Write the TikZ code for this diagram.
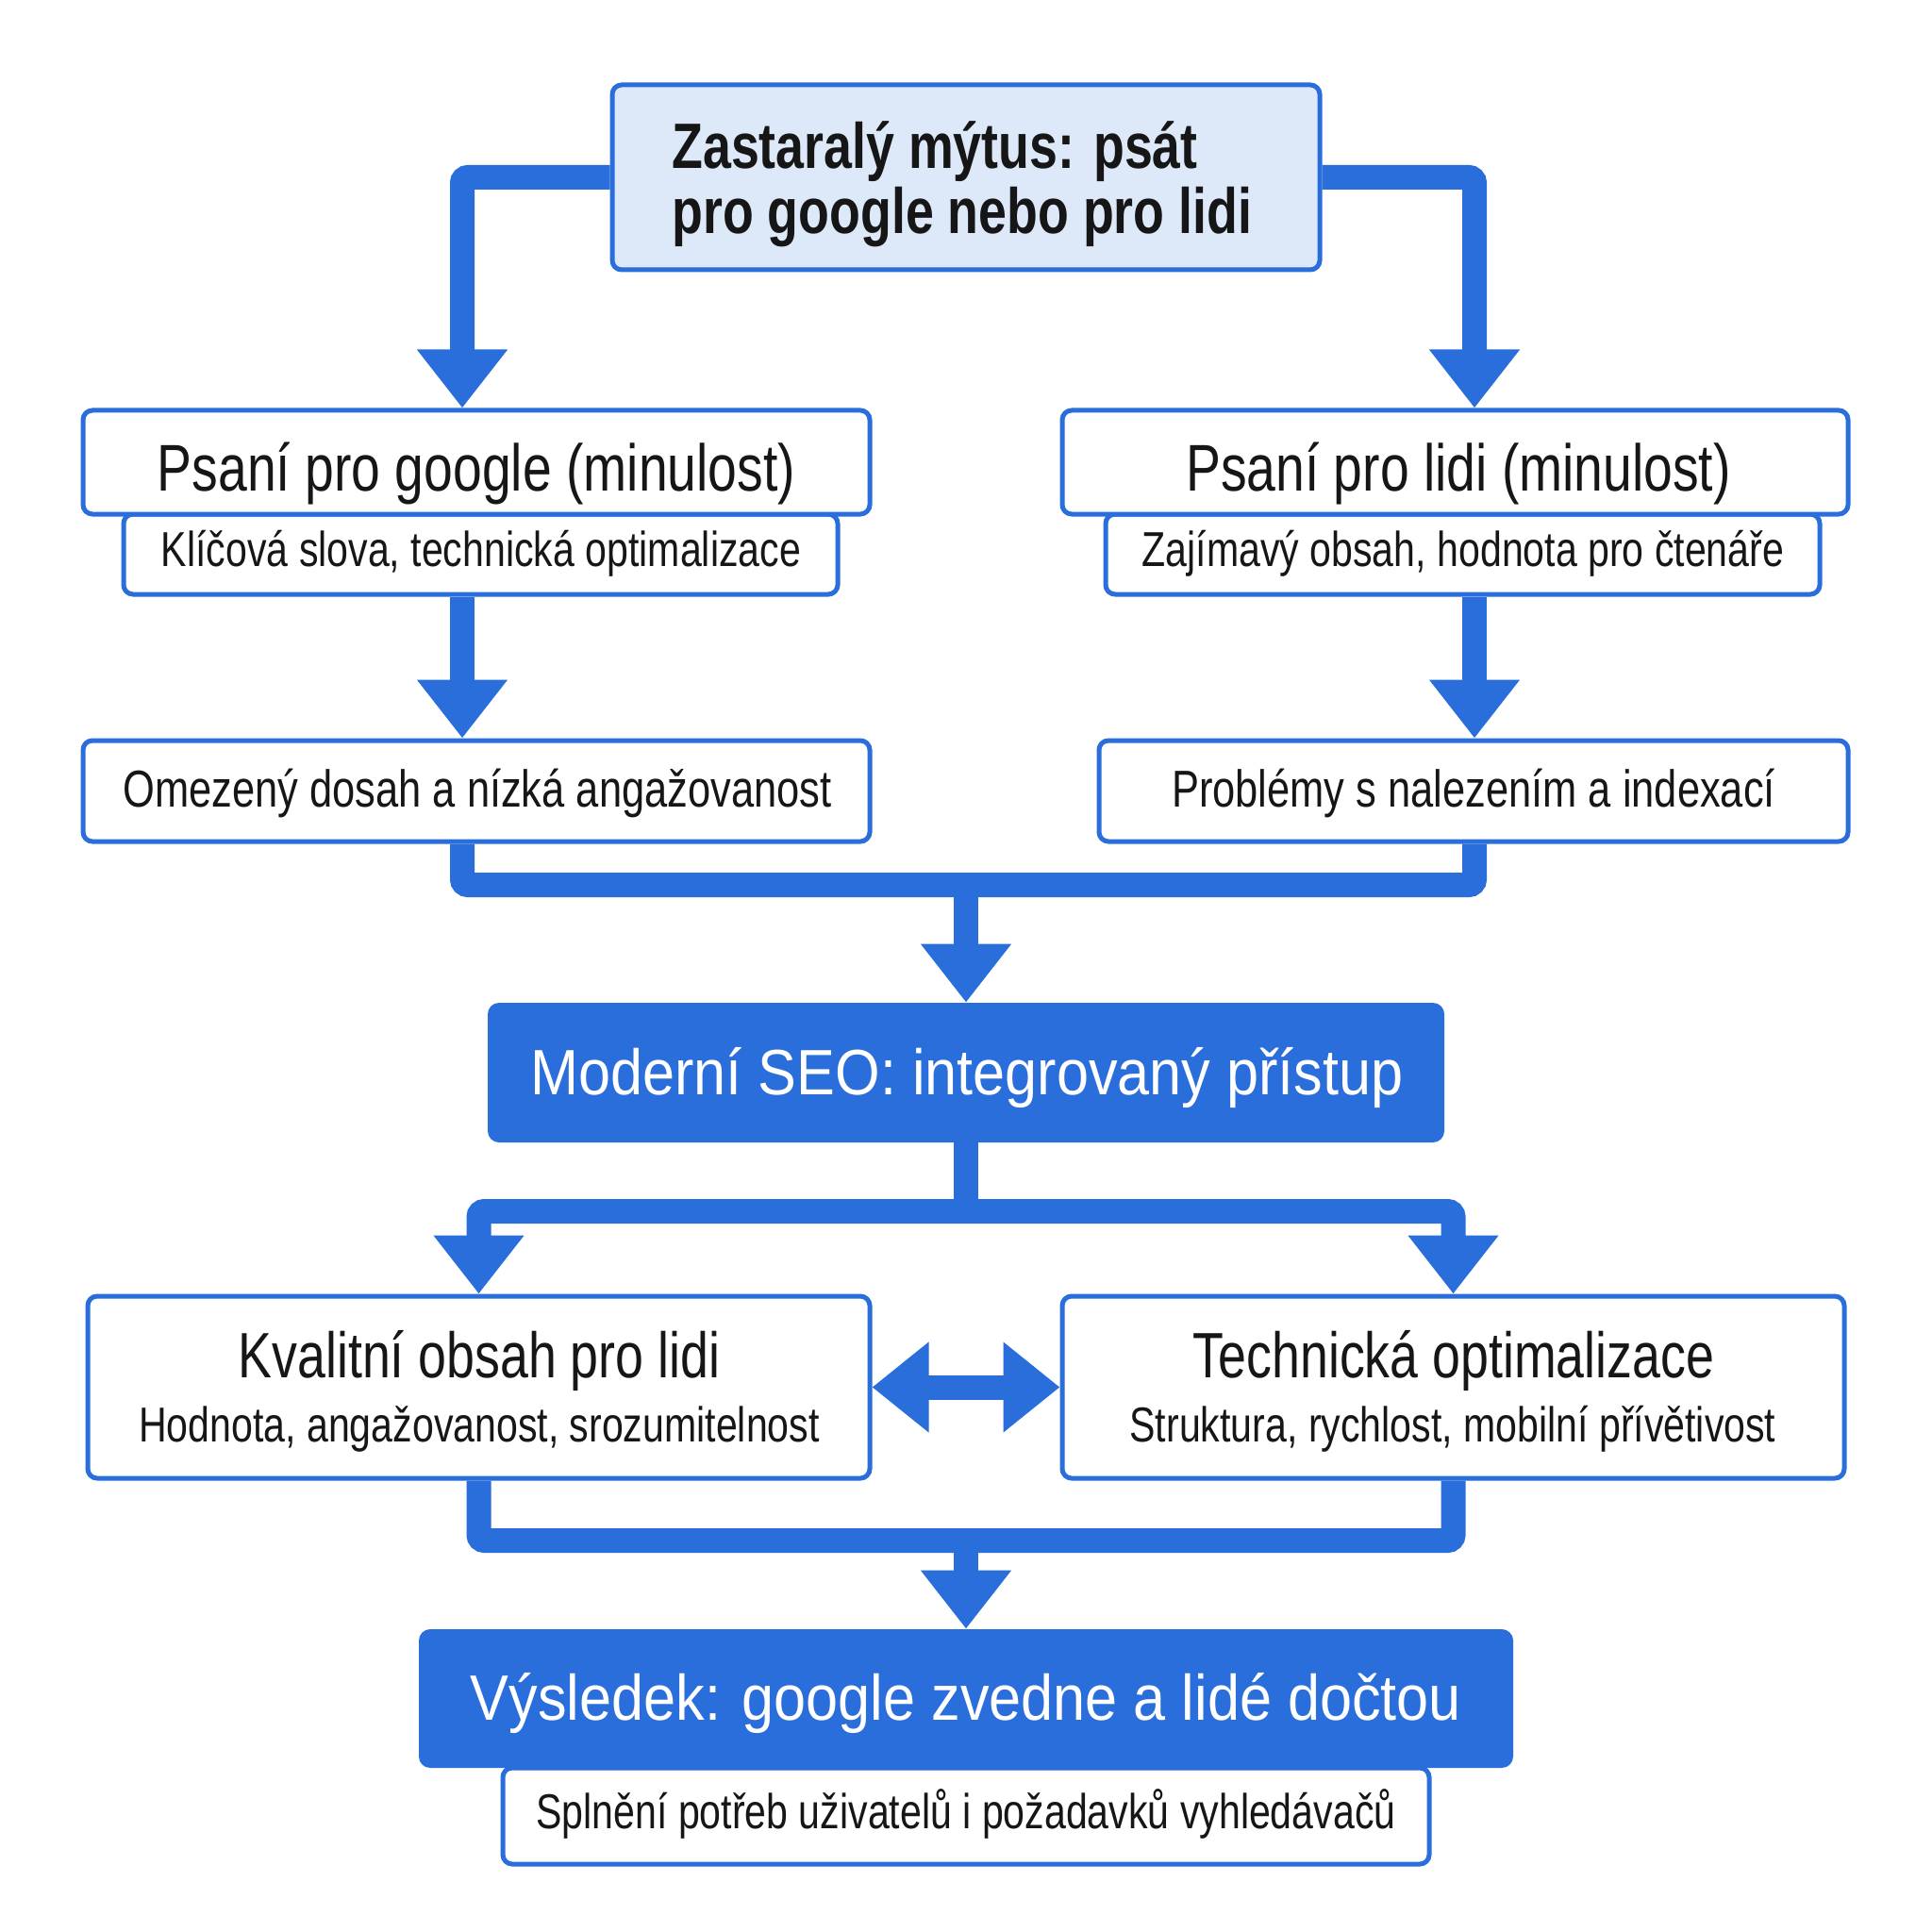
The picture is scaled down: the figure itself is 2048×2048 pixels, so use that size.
\documentclass[tikz,border=0pt]{standalone}
\usepackage{fontspec}
\setmainfont{Liberation Sans}
\newfontfamily\condf[FakeStretch=0.79]{Liberation Sans}
\newfontfamily\widef[FakeStretch=0.9]{Liberation Sans}
\usetikzlibrary{arrows.meta}
\definecolor{mainblue}{RGB}{42,110,220}
\definecolor{lightfill}{RGB}{221,233,249}
\definecolor{ink}{RGB}{22,22,22}
\begin{document}
\begin{tikzpicture}[x=0.5pt,y=-0.5pt,
  wbox/.style={draw=mainblue, line width=2.5pt, fill=white, rounded corners=5pt, inner sep=0pt},
  fbox/.style={fill=mainblue, rounded corners=6pt, inner sep=0pt},
  lbl/.style={anchor=base, text=ink, inner sep=0pt},
  wlbl/.style={anchor=base, text=white, inner sep=0pt, font=\widef\fontsize{34}{40}\selectfont},
  big/.style={font=\condf\fontsize{35}{40}\selectfont},
  mid/.style={font=\condf\fontsize{27.5}{32}\selectfont},
  small/.style={font=\condf\fontsize{26}{30}\selectfont},
  conn/.style={draw=mainblue, line width=13pt, rounded corners=3pt},
  arr/.style={conn, -{Triangle[length=31pt,width=46pt]}},
  darr/.style={conn, {Triangle[length=30pt,width=46pt]}-{Triangle[length=30pt,width=46pt]}}
]
\useasboundingbox (0,0) rectangle (2048,2048);
\fill[white] (0,0) rectangle (2048,2048);

% column coordinates
\coordinate (cl) at (490,0);
\coordinate (cr) at (1563,0);
\coordinate (mg) at (1024,938);
\coordinate (sp) at (1024,1284);
\coordinate (mg2) at (1024,1633);

% top box
\node[wbox, fill=lightfill, minimum width=375pt, minimum height=98pt] (top) at (1024,188) {};
\node[lbl, anchor=base west, font=\condf\bfseries\fontsize{34}{40}\selectfont] (topa) at (712,179) {Zastaralý mýtus: psát};
\node[lbl, anchor=base west, font=\condf\bfseries\fontsize{34}{40}\selectfont] (topb) at (712,248) {pro google nebo pro lidi};

% second row
\node[wbox, minimum width=378.5pt, minimum height=42.5pt] (g1s) at (509.5,587.5) {};
\node[wbox, minimum width=417pt, minimum height=55pt] (g1) at (505,490) {};
\node[lbl, big] (g1t) at (505,520) {Psaní pro google (minulost)};
\node[lbl, small] (g1st) at (510,600) {Klíčová slova, technická optimalizace};

\node[wbox, minimum width=378.5pt, minimum height=42.5pt] (h1s) at (1550.5,587.5) {};
\node[wbox, minimum width=416.5pt, minimum height=55pt] (h1) at (1542.5,490) {};
\node[lbl, big] (h1t) at (1546,520) {Psaní pro lidi (minulost)};
\node[lbl, small] (h1st) at (1551,600) {Zajímavý obsah, hodnota pro čtenáře};

% third row
\node[wbox, minimum width=417pt, minimum height=53.5pt] (o1) at (505,838.5) {};
\node[lbl, mid] (o1t) at (506,855) {Omezený dosah a nízká angažovanost};
\node[wbox, minimum width=397pt, minimum height=53.5pt] (o2) at (1562,838.5) {};
\node[lbl, mid] (o2t) at (1562,855) {Problémy s nalezením a indexací};

% modern SEO
\node[fbox, minimum width=507pt, minimum height=74pt] (seo) at (1024,1137) {};
\node[wlbl] (seot) at (1025,1160) {Moderní SEO: integrovaný přístup};

% fourth row
\node[wbox, minimum width=414.5pt, minimum height=96.5pt] (q1) at (507.5,1470.5) {};
\node[lbl, font=\condf\fontsize{34}{40}\selectfont] (q1a) at (508,1460) {Kvalitní obsah pro lidi};
\node[lbl, small] (q1b) at (508,1528) {Hodnota, angažovanost, srozumitelnost};
\node[wbox, minimum width=414.5pt, minimum height=96.5pt] (q2) at (1540.5,1470.5) {};
\node[lbl, font=\condf\fontsize{34}{40}\selectfont] (q2a) at (1541,1460) {Technická optimalizace};
\node[lbl, small] (q2b) at (1540,1528) {Struktura, rychlost, mobilní přívětivost};

% result
\node[wbox, minimum width=491pt, minimum height=51pt] (ress) at (1024,1925) {};
\node[fbox, minimum width=580pt, minimum height=73.5pt] (res) at (1024,1800.5) {};
\node[wlbl] (rest) at (1024,1823) {Výsledek: google zvedne a lidé dočtou};
\node[lbl, small] (resst) at (1024,1938) {Splnění potřeb uživatelů i požadavků vyhledávačů};

% connectors
\draw[arr] (top.west) -| (g1.north -| cl);
\draw[arr] (top.east) -| (h1.north -| cr);
\draw[arr] (g1s.south -| cl) -- (o1.north -| cl);
\draw[arr] (h1s.south -| cr) -- (o2.north -| cr);
\draw[conn] (o1.south -| cl) |- (mg) -| (o2.south -| cr);
\draw[arr] (mg) -- (seo.north);
\draw[conn] (seo.south) -- (sp);
\draw[arr] (sp) -| (q1.north);
\draw[arr] (sp) -| (q2.north);
\draw[darr] (q1.east) -- (q2.west);
\draw[conn] (q1.south) |- (mg2) -| (q2.south);
\draw[arr] (mg2) -- (res.north);
\end{tikzpicture}
\end{document}
